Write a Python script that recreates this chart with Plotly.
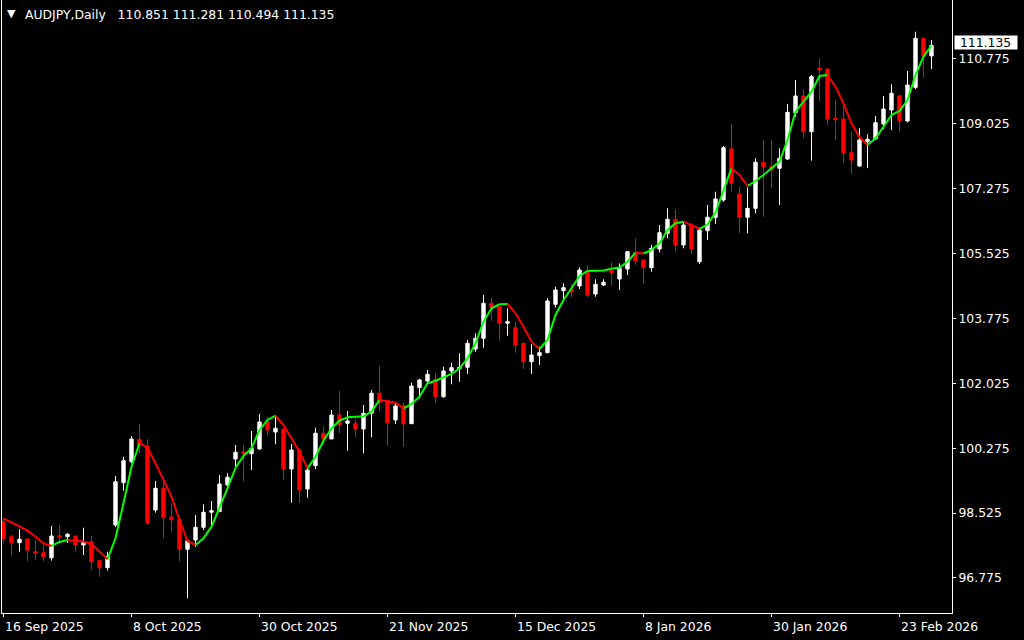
import plotly.graph_objects as go
import pandas as pd

# ---- categories (trading days, Dec 25 and Jan 1 have no bar) ----
_holidays = {pd.Timestamp("2025-12-25"), pd.Timestamp("2026-01-01")}
dates = [d for d in pd.bdate_range("2025-09-16", "2026-02-27") if d not in _holidays]

symbol_title = "AUDJPY,Daily"

opens = [98.293, 97.889, 97.727, 97.827, 97.484, 97.457, 97.322, 97.915, 97.889, 97.907,
         97.665, 97.754, 97.242, 97.053, 98.204, 99.344, 99.911, 100.515, 100.334, 98.608,
         99.193, 98.420, 98.358, 97.549, 97.800, 98.142, 98.546, 98.563, 99.282, 99.983,
         100.172, 100.126, 100.253, 100.989, 100.711, 100.792, 99.714, 100.226, 99.175, 99.803,
         100.676, 100.523, 101.170, 100.946, 100.946, 100.792, 101.215, 101.755, 101.555, 101.035,
         101.412, 100.935, 101.906, 102.086, 102.132, 101.663, 102.356, 102.418, 102.456, 102.949,
         103.237, 104.181, 104.089, 103.642, 103.523, 103.103, 102.607, 102.768, 102.849, 104.154,
         104.521, 104.567, 104.647, 105.033, 104.432, 104.674, 105.060, 104.836, 105.106, 105.556,
         105.348, 105.141, 105.645, 106.068, 106.446, 105.753, 106.292, 105.303, 106.138, 106.500,
         106.966, 108.341, 107.128, 106.500, 106.742, 107.982, 107.864, 107.821, 108.071, 109.320,
         109.770, 108.807, 110.517, 110.498, 109.169, 109.150, 108.241, 107.883, 108.538, 108.611,
         109.015, 109.392, 109.770, 109.096, 110.004, 111.325, 110.851]
highs = [98.393, 97.934, 98.088, 97.854, 97.800, 97.665, 98.177, 98.204, 97.988, 97.920,
         98.131, 97.907, 97.250, 97.484, 99.525, 100.045, 100.603, 100.927, 100.515, 99.390,
         99.506, 98.789, 98.428, 97.790, 98.474, 98.762, 98.851, 99.552, 99.598, 100.361,
         100.361, 100.738, 101.197, 101.124, 101.143, 100.800, 100.388, 100.272, 99.776, 100.827,
         100.873, 101.304, 101.825, 101.277, 101.035, 101.439, 101.844, 102.491, 101.574, 101.485,
         101.501, 102.040, 102.140, 102.383, 102.294, 102.472, 102.580, 102.833, 103.192, 103.372,
         104.405, 104.316, 104.100, 104.046, 103.685, 103.110, 103.076, 103.011, 104.316, 104.629,
         104.720, 104.701, 105.152, 105.214, 104.828, 104.828, 105.286, 105.259, 105.591, 105.933,
         105.350, 105.753, 106.292, 106.742, 106.723, 106.381, 106.338, 106.203, 106.831, 107.190,
         108.422, 109.015, 107.325, 107.308, 108.090, 108.584, 108.584, 108.360, 109.554, 110.201,
         109.951, 110.336, 110.786, 110.510, 109.662, 109.527, 108.807, 108.899, 108.737, 109.231,
         109.770, 110.085, 109.797, 110.444, 111.503, 111.341, 111.281]
lows = [97.719, 97.376, 97.484, 97.215, 97.260, 97.215, 97.242, 97.711, 97.719, 97.484,
        97.395, 96.991, 96.810, 96.972, 98.150, 99.129, 99.868, 100.137, 98.204, 98.536,
        97.845, 98.023, 97.215, 96.228, 97.619, 98.069, 98.177, 98.560, 99.193, 99.776,
        99.371, 99.687, 100.226, 100.603, 100.380, 99.417, 98.805, 98.805, 98.940, 99.714,
        100.361, 100.520, 100.676, 100.207, 100.568, 100.137, 100.568, 101.277, 100.334, 100.927,
        100.315, 100.930, 101.620, 102.024, 101.485, 101.636, 101.997, 102.067, 102.275, 102.876,
        102.984, 103.712, 103.173, 103.307, 102.849, 102.410, 102.275, 102.518, 102.833, 104.073,
        104.270, 104.343, 104.567, 104.343, 104.359, 104.647, 104.655, 104.540, 104.944, 105.214,
        104.701, 105.033, 105.556, 105.933, 105.572, 105.664, 105.510, 105.240, 105.888, 106.319,
        106.920, 107.190, 106.068, 106.068, 106.607, 106.516, 107.281, 106.831, 108.044, 109.212,
        108.629, 108.026, 109.643, 108.988, 108.584, 107.972, 107.667, 107.856, 107.829, 108.584,
        108.872, 108.853, 108.807, 109.061, 109.959, 110.263, 110.494]
closes = [97.845, 97.727, 97.818, 97.530, 97.441, 97.349, 97.907, 97.880, 97.953, 97.665,
          97.754, 97.215, 97.053, 97.349, 99.371, 99.938, 100.523, 100.361, 98.266, 99.193,
          98.401, 98.347, 97.549, 97.781, 98.142, 98.546, 98.590, 99.309, 99.490, 100.164,
          100.126, 100.272, 100.981, 100.765, 100.811, 99.714, 100.226, 99.148, 99.687, 100.676,
          100.523, 101.170, 100.900, 101.008, 100.792, 101.215, 101.755, 101.512, 100.962, 101.412,
          100.935, 101.951, 102.113, 102.267, 101.663, 102.356, 102.445, 102.456, 103.103, 103.237,
          104.181, 104.073, 103.642, 103.685, 103.057, 102.607, 102.787, 102.849, 104.243, 104.540,
          104.602, 104.486, 105.079, 104.405, 104.693, 104.747, 105.006, 105.125, 105.572, 105.321,
          105.141, 105.664, 106.084, 106.446, 105.753, 106.292, 105.645, 106.157, 106.500, 106.993,
          108.376, 107.416, 106.500, 106.742, 107.982, 107.864, 107.775, 108.090, 109.330, 109.770,
          108.807, 110.290, 110.471, 109.150, 109.131, 108.241, 108.044, 108.584, 108.602, 109.050,
          109.419, 109.843, 109.104, 110.066, 111.325, 110.848, 111.135]
# smoothed moving average (green when rising, red when falling)
ma = [98.385, 98.277, 98.177, 98.050, 97.889, 97.711, 97.638, 97.746, 97.800, 97.786,
      97.759, 97.692, 97.476, 97.279, 97.845, 98.789, 99.776, 100.407, 100.299, 99.868,
      99.417, 98.967, 98.339, 97.772, 97.665, 97.845, 98.158, 98.654, 99.193, 99.741,
      100.064, 100.272, 100.765, 101.035, 101.151, 100.900, 100.541, 100.180, 99.732, 100.045,
      100.477, 100.811, 101.016, 101.108, 101.124, 101.135, 101.259, 101.574, 101.547, 101.501,
      101.350, 101.466, 101.663, 102.024, 102.094, 102.175, 102.275, 102.429, 102.698, 103.103,
      103.685, 104.046, 104.154, 104.162, 103.911, 103.550, 103.146, 102.949, 103.192, 103.866,
      104.270, 104.585, 104.917, 105.052, 105.060, 105.068, 105.114, 105.146, 105.302, 105.545,
      105.524, 105.618, 105.799, 106.157, 106.338, 106.381, 106.292, 106.190, 106.305, 106.629,
      107.236, 107.821, 107.640, 107.343, 107.478, 107.640, 107.821, 108.000, 108.584, 109.347,
      109.616, 109.886, 110.309, 110.336, 110.021, 109.573, 109.034, 108.664, 108.449, 108.629,
      108.942, 109.258, 109.365, 109.662, 110.336, 110.829, 111.126]

price_ticks = [96.775, 98.525, 100.275, 102.025, 103.775, 105.525, 107.275, 109.025, 110.775]
date_tick_idx = list(range(0, len(dates), 16))
date_tick_text = [f"{dates[i].day} {dates[i].strftime('%b %Y')}" for i in date_tick_idx]

FONT = "DejaVu Sans"
FS = 12.4
UP_LINE = "#00FF00"
DN_LINE = "#FF0000"

x = list(range(len(dates)))

fig = go.Figure()
fig.add_trace(go.Candlestick(
    x=x, open=opens, high=highs, low=lows, close=closes,
    increasing=dict(line=dict(color="#FFFFFF", width=1), fillcolor="#FFFFFF"),
    decreasing=dict(line=dict(color="#FF0000", width=1), fillcolor="#FF0000"),
    whiskerwidth=0, showlegend=False, hoverinfo="skip",
))

# split the average into rising / falling runs
segs = {"up": ([], []), "dn": ([], [])}
for i in range(len(ma) - 1):
    key = "up" if ma[i + 1] >= ma[i] else "dn"
    xs, ys = segs[key]
    if xs and xs[-1] == x[i]:
        xs.append(x[i + 1]); ys.append(ma[i + 1])
    else:
        if xs:
            xs.append(None); ys.append(None)
        xs.extend([x[i], x[i + 1]]); ys.extend([ma[i], ma[i + 1]])

for key, col in (("up", UP_LINE), ("dn", DN_LINE)):
    xs, ys = segs[key]
    fig.add_trace(go.Scatter(x=xs, y=ys, mode="lines", line=dict(color=col, width=2),
                             showlegend=False, hoverinfo="skip"))

annotations = []
for i, t in zip(date_tick_idx, date_tick_text):
    annotations.append(dict(x=i, xref="x", y=0, yref="paper", yshift=-13, text=t,
                            xanchor="left", yanchor="middle", showarrow=False, xshift=-1,
                            font=dict(family=FONT, size=FS, color="#FFFFFF")))
annotations.append(dict(x=0, xref="paper", y=1, yref="paper", xshift=9.7, yshift=-13,
                        text="\u25BC", xanchor="center", yanchor="middle", showarrow=False,
                        font=dict(family=FONT, size=11, color="#FFFFFF")))
header = (symbol_title + "\u00a0\u00a0\u00a0" +
          " ".join(f"{v:.3f}" for v in (opens[-1], highs[-1], lows[-1], closes[-1])))
annotations.append(dict(x=0, xref="paper", y=1, yref="paper", xshift=21, yshift=-14,
                        text=header, xanchor="left", yanchor="middle", showarrow=False,
                        font=dict(family=FONT, size=FS, color="#FFFFFF")))
annotations.append(dict(x=1, xref="paper", y=closes[-1], yref="y", xshift=2, yshift=3,
                        text="\u00a0" + f"{closes[-1]:.3f}", xanchor="left", yanchor="middle",
                        showarrow=False, bgcolor="#FFFFFF", borderpad=1, width=60, height=11,
                        align="left", font=dict(family=FONT, size=FS, color="#000000")))

fig.update_layout(
    width=1024, height=640,
    margin=dict(l=2, r=72, t=0, b=27),
    paper_bgcolor="#000000", plot_bgcolor="#000000",
    boxgap=0.4,
    annotations=annotations,
    xaxis=dict(range=[-0.1875, 118.5625], showgrid=False, zeroline=False,
               showline=True, linecolor="#FFFFFF", linewidth=1,
               ticks="outside", ticklen=3, tickcolor="#FFFFFF", tickwidth=1,
               tickvals=date_tick_idx, showticklabels=False,
               rangeslider=dict(visible=False), fixedrange=True),
    yaxis=dict(side="right", range=[95.831, 112.358], showgrid=False, zeroline=False,
               showline=True, mirror=True, linecolor="#FFFFFF", linewidth=1,
               ticks="outside", ticklen=3, tickcolor="#FFFFFF", tickwidth=1,
               tickvals=price_ticks, ticktext=[f"{v:.3f}" for v in price_ticks],
               tickfont=dict(family=FONT, size=FS, color="#FFFFFF"), fixedrange=True),
)

fig.write_html("out.html", config={"displayModeBar": False, "staticPlot": True},
               post_script="document.body.style.margin='0';document.body.style.background='#000';")
